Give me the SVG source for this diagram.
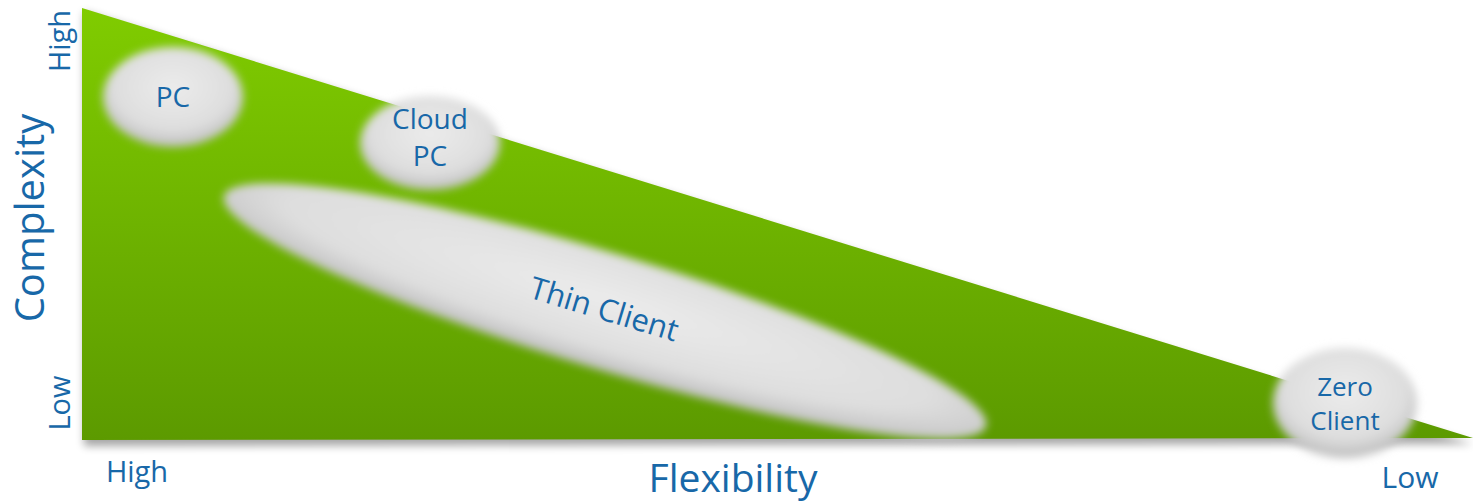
<svg xmlns="http://www.w3.org/2000/svg" width="1473" height="504" viewBox="0 0 1473 504">
<defs>
<linearGradient id="green" x1="0" y1="0" x2="0" y2="1">
<stop offset="0" stop-color="#80cc00"/>
<stop offset="1" stop-color="#5c9a00"/>
</linearGradient>
<radialGradient id="gray" cx="0.5" cy="0.4" r="0.6">
<stop offset="0" stop-color="#ebebeb"/>
<stop offset="0.7" stop-color="#dedede"/>
<stop offset="1" stop-color="#bdbdbd"/>
</radialGradient>
<filter id="blur" x="-20%" y="-20%" width="140%" height="140%">
<feGaussianBlur stdDeviation="4"/>
</filter>
<filter id="shadow" x="-5%" y="-5%" width="110%" height="120%">
<feGaussianBlur stdDeviation="4"/>
</filter>
<style>
.lbl{font-family:"Open Sans","Liberation Sans",sans-serif;fill:#1868a8;}
.node{fill:url(#gray);filter:url(#blur);}
</style>
</defs>
<rect width="1473" height="504" fill="#ffffff"/>
<polygon points="84,12 84,446 1473,444" fill="#000" opacity="0.35" filter="url(#shadow)"/>
<polygon id="triangle" points="82,8 82,440 1473,438" fill="url(#green)"/>
<g id="node-pc">
<ellipse class="node" cx="173" cy="97" rx="70" ry="50"/>
<text class="lbl" x="173" y="107" font-size="28" text-anchor="middle">PC</text>
</g>
<g id="node-cloudpc">
<ellipse class="node" cx="430" cy="143" rx="70" ry="47"/>
<text class="lbl" x="430" y="129" font-size="28" text-anchor="middle">Cloud</text>
<text class="lbl" x="430" y="166" font-size="28" text-anchor="middle">PC</text>
</g>
<g id="node-thinclient">
<ellipse class="node" cx="605" cy="311" rx="398" ry="58" transform="rotate(16.8 605 311)"/>
<text class="lbl" x="604" y="320" font-size="31" text-anchor="middle" transform="rotate(16.8 604 310)">Thin Client</text>
</g>
<g id="node-zeroclient">
<ellipse class="node" cx="1345" cy="403" rx="72" ry="55"/>
<text class="lbl" x="1345" y="396" font-size="26" text-anchor="middle">Zero</text>
<text class="lbl" x="1345" y="430" font-size="26" text-anchor="middle">Client</text>
</g>
<g id="axes">
<text class="lbl" x="0" y="0" font-size="40" text-anchor="middle" transform="translate(44 218) rotate(-90)">Complexity</text>
<text class="lbl" x="0" y="0" font-size="29" text-anchor="middle" transform="translate(70 41) rotate(-90)">High</text>
<text class="lbl" x="0" y="0" font-size="29" text-anchor="middle" transform="translate(70 403) rotate(-90)">Low</text>
<text class="lbl" x="137" y="482" font-size="29" text-anchor="middle">High</text>
<text class="lbl" x="733" y="492" font-size="39" text-anchor="middle">Flexibility</text>
<text class="lbl" x="1410" y="488" font-size="30" text-anchor="middle">Low</text>
</g>
<g id="connectors"></g>
</svg>
